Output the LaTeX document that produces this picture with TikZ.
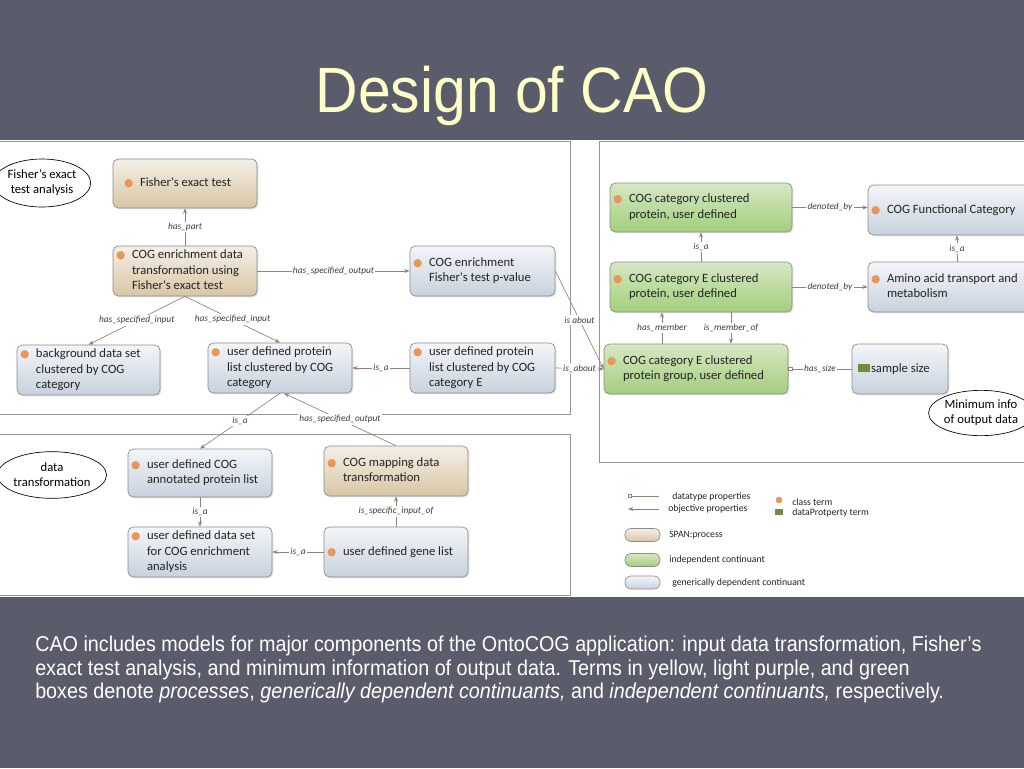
\documentclass[tikz,border=0pt]{standalone}
\usepackage{fontspec}
\setmainfont{Carlito}
\newfontfamily\ttlfont[FakeStretch=0.92]{Liberation Sans}
\newfontfamily\dejafont{DejaVu Sans}
\usetikzlibrary{arrows.meta,calc,shadows,shapes.geometric}
\definecolor{bgslate}{RGB}{90,92,108}
\definecolor{ttlc}{RGB}{255,255,200}
\definecolor{tanT}{RGB}{244,239,230}
\definecolor{tanB}{RGB}{216,198,165}
\definecolor{grT}{RGB}{243,246,249}
\definecolor{grB}{RGB}{200,209,221}
\definecolor{gnT}{RGB}{214,232,196}
\definecolor{gnB}{RGB}{163,206,124}
\definecolor{boxborder}{RGB}{140,140,140}
\definecolor{edgec}{RGB}{150,128,118}
\definecolor{lblc}{RGB}{60,60,60}
\definecolor{panelc}{RGB}{150,150,150}
\definecolor{dotc}{RGB}{232,150,90}
\definecolor{sqg}{RGB}{110,140,70}
\definecolor{txt}{RGB}{35,35,35}
\newcommand\aps{\textquotesingle}
\newcommand\dt{\llap{{\dejafont\fontsize{8}{8}\selectfont\textcolor{dotc}{●}}\hspace{5pt}}}
\newcommand\sqm{\llap{\textcolor{sqg}{\rule[0.2pt]{9pt}{5.8pt}}\hspace{1pt}}}
\newcommand\bx[7]{%
  \pgfmathsetmacro\tw{(#5-#3-38)*0.75}%
  \node[#2, minimum width={(#5-#3)*0.75pt}, minimum height={(#6-#4)*0.75pt}] (#1)
    at ({(#3+#5)/2},{(#4+#6)/2})
    {\makebox[\tw pt][l]{\begin{tabular}{@{}l@{}}#7\end{tabular}}};}
\tikzset{
  boxbase/.style={draw=boxborder, line width=0.5pt, rounded corners=4pt, inner sep=0pt,
    font=\fontsize{9.5}{11.3}\selectfont, text=txt,
    drop shadow={shadow xshift=1pt, shadow yshift=-1pt, opacity=0.22}},
  tanbox/.style={boxbase, top color=tanT, bottom color=tanB},
  graybox/.style={boxbase, top color=grT, bottom color=grB},
  greenbox/.style={boxbase, top color=gnT, bottom color=gnB},
  edge/.style={draw=edgec, line width=0.5pt},
  arr/.style={edge, -{Stealth[length=4pt,width=3pt]}},
  dtp/.style={edge, {Square[open,length=3pt,width=3pt]}-},
  lbl/.style={fill=white, inner sep=1pt, font=\fontsize{7}{8}\selectfont\itshape, text=lblc},
  ell/.style={ellipse, draw=black, line width=0.5pt, fill=white, inner sep=0pt, align=center,
    font=\fontsize{9.5}{11.3}\selectfont, text=black},
  panel/.style={draw=panelc, line width=0.6pt},
  leg/.style={font=\fontsize{7.3}{9}\selectfont, anchor=west, inner sep=0pt, text=txt},
  pill/.style={draw=boxborder, line width=0.5pt, rounded corners=4.5pt, minimum width=26.25pt,
    minimum height=9.75pt, inner sep=0pt},
}
\begin{document}
\begin{tikzpicture}[x=0.75pt,y=-0.75pt]
\useasboundingbox (0,0) rectangle (1024,768);
\fill[bgslate] (0,0) rectangle (1024,768);
\fill[white] (0,140) rectangle (1024,597);
% panels
\draw[panel] (-2,141) rectangle (570,414);
\draw[panel] (-2,434) rectangle (570,595);
\draw[panel] (599,141) rectangle (1030,462);
% title
\node[font=\ttlfont\fontsize{48}{50}\selectfont, text=ttlc, anchor=base, inner sep=0pt] (title) at (512,112) {Design of CAO};
% ellipses
\node[ell, minimum width=64.5pt, minimum height=36pt] (e1) at (42,183) {Fisher’s exact\\test analysis};
\node[ell, minimum width=66pt, minimum height=35pt] (e2) at (52,475) {data\\transformation};
\node[ell, minimum width=64.5pt, minimum height=34pt] (e3) at (981,413) {Minimum info\\of output data};
% boxes, left top
\bx{fet}{tanbox}{113}{159}{257}{208}{\hspace*{6pt}\dt Fisher\aps s exact test}
\bx{ced}{tanbox}{113}{246}{257}{296}{\dt COG enrichment data\\transformation using\\Fisher\aps s exact test}
\bx{pval}{graybox}{410}{246}{555}{296}{\dt COG enrichment\\Fisher\aps s test p-value}
\bx{bg}{graybox}{17}{345}{160}{395}{\dt background data set\\clustered by COG\\category}
\bx{udp}{graybox}{208}{343}{352}{393}{\dt user defined protein\\list clustered by COG\\category}
\bx{udpE}{graybox}{410}{343}{555}{393}{\dt user defined protein\\list clustered by COG\\category E}
% boxes, left bottom
\bx{ucog}{graybox}{128}{449}{272}{497}{\dt user defined COG\\annotated protein list}
\bx{map}{tanbox}{324}{446}{468}{496}{\dt COG mapping data\\transformation}
\bx{uds}{graybox}{128}{527}{272}{577}{\dt user defined data set\\for COG enrichment\\analysis}
\bx{ugl}{graybox}{324}{527}{468}{577}{\dt user defined gene list}
% boxes, right
\bx{ccp}{greenbox}{610}{183}{792}{232}{\dt COG category clustered\\protein, user defined}
\bx{cfc}{graybox}{868}{185}{1046}{235}{\dt COG Functional Category}
\bx{cce}{greenbox}{610}{262}{792}{312}{\dt COG category E clustered\\protein, user defined}
\bx{aat}{graybox}{868}{262}{1046}{312}{\dt Amino acid transport and\\metabolism}
\bx{ccg}{greenbox}{604}{344}{788}{394}{\dt COG category E clustered\\protein group, user defined}
\bx{ss}{graybox}{852}{344}{948}{394}{\sqm sample size}
% connectors, left top
\draw[arr] (ced.north) -- (fet.south) node[lbl, midway] {has\_part};
\draw[arr] (ced.east) -- (pval.west) node[lbl, midway] {has\_specified\_output};
\draw[arr] (ced.south) -- (bg.north) node[lbl, midway] {has\_specified\_input};
\draw[arr] (ced.south) -- (udp.north) node[lbl, midway] {has\_specified\_input};
\draw[arr] (udpE.west) -- (udp.east) node[lbl, midway] {is\_a};
\draw[arr] (pval.east) -- (ccg.west) node[lbl, midway] {is about};
\draw[arr] (udpE.east) -- (ccg.west) node[lbl, midway] {is\_about};
% connectors crossing panels
\draw[arr] (udp.south) -- (ucog.north) node[lbl, midway] {is\_a};
\draw[arr] (map.north) -- ($(udp.south)+(4,0)$) node[lbl, midway] {has\_specified\_output};
% connectors, left bottom
\draw[arr] (ucog.south) -- (uds.north) node[lbl, midway] {is\_a};
\draw[arr] (ugl.north) -- (map.south) node[lbl, midway] {is\_specific\_input\_of};
\draw[arr] (ugl.west) -- (uds.east) node[lbl, midway] {is\_a};
% connectors, right
\draw[arr] (ccp.east) -- (ccp.east -| cfc.west) node[lbl, midway] {denoted\_by};
\draw[arr] (cce.east) -- (cce.east -| aat.west) node[lbl, midway] {denoted\_by};
\draw[arr] (cce.north) -- (ccp.south) node[lbl, midway] {is\_a};
\draw[arr] (aat.north) -- (cfc.south) node[lbl, midway] {is\_a};
\draw[arr] ($(ccg.north)+(-34,0)$) -- ($(cce.south)+(-39,0)$) node[lbl, midway] {has\_member};
\draw[arr] ($(cce.south)+(30,0)$) -- ($(ccg.north)+(35,0)$) node[lbl, midway] {is\_member\_of};
\draw[dtp] (ccg.east) -- (ss.west) node[lbl, midway] {has\_size};
% legend
\coordinate (la1) at (628,496); \coordinate (lb1) at (659,496);
\draw[dtp] (la1) -- (lb1);
\node[leg] (lt1) at (672,497) {datatype properties};
\coordinate (la2) at (628,509); \coordinate (lb2) at (659,509);
\draw[arr] (lb2) -- (la2);
\node[leg] (lt2) at (668,509) {objective properties};
\node[circle, fill=dotc, minimum size=5pt, inner sep=0pt] (ldot) at (779,500) {};
\node[leg] (lt3) at (792,502) {class term};
\node[fill=sqg, minimum width=6pt, minimum height=4pt, inner sep=0pt] (lsq) at (779,512) {};
\node[leg] (lt4) at (792,512.5) {dataProtperty term};
\node[pill, top color=tanT, bottom color=tanB] (p1) at (642.5,535) {};
\node[leg] (lt5) at (669,535) {SPAN:process};
\node[pill, top color=gnT, bottom color=gnB] (p2) at (642.5,560) {};
\node[leg] (lt6) at (669,560) {independent continuant};
\node[pill, top color=grT, bottom color=grB] (p3) at (642.5,582.5) {};
\node[leg] (lt7) at (672,583) {generically dependent continuant};
% caption
\node[anchor=north west, inner sep=0pt, align=left, text=white,
  font=\ttlfont\fontsize{16.1}{17.6}\selectfont] (cap) at (35,636)
  {CAO includes models for major components of the OntoCOG application: input data transformation, Fisher’s\\
   exact test analysis, and minimum information of output data. Terms in yellow, light purple, and green\\
   boxes denote \textit{processes}, \textit{generically dependent continuants,} and \textit{independent continuants,} respectively.};
\end{tikzpicture}
\end{document}
